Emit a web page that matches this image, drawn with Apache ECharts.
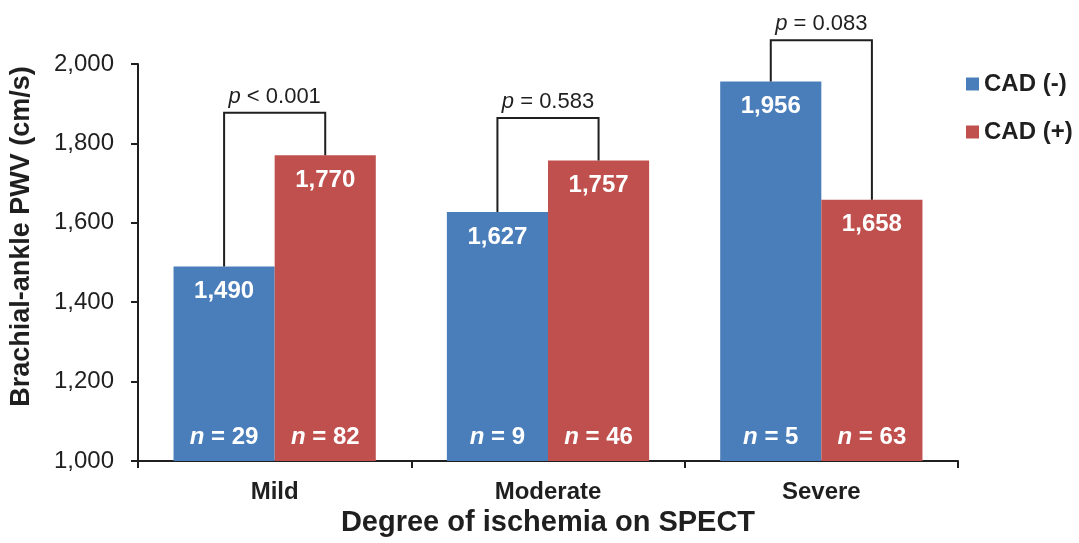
<!DOCTYPE html>
<html>
<head>
<meta charset="utf-8">
<title>baPWV by ischemia</title>
<script src="https://cdn.jsdelivr.net/npm/echarts@6/dist/echarts.min.js"></script>
<style>
  html, body { margin: 0; padding: 0; background: #fff; }
  #main { width: 1079px; height: 543px; }
</style>
</head>
<body>
<div id="main"></div>
<script>
// data
var categories = ['Mild', 'Moderate', 'Severe'];
var cadNeg = [1490, 1627, 1956];
var cadPos = [1770, 1757, 1658];
var nNeg = [29, 9, 5];
var nPos = [82, 46, 63];
var pLabels = ['< 0.001', '= 0.583', '= 0.083'];
var bracketTop = [1877, 1864, 2060];

var BLUE = '#4a7ebb';
var RED = '#c0504d';
var INK = '#1f1f1f';
var FONT = '"Liberation Sans", Arial, sans-serif';
var catGap = 0.26;

function fmt(v) {
    return v.toLocaleString('en-US');
}

var myChart = echarts.init(document.getElementById('main'));

// half distance between the two bar centres inside a category
function barOffset(api) {
    var bandW = api.size([1, 0])[0];
    return bandW * (1 - catGap) / 4;
}

var option = {
    animation: false,
    textStyle: { fontFamily: FONT },
    grid: { left: 138, right: 121, top: 64, bottom: 82 },
    legend: {
        orient: 'vertical',
        left: 961,
        top: 67,
        itemWidth: 13,
        itemHeight: 13,
        itemGap: 24,
        icon: 'rect',
        textStyle: { fontSize: 24, fontWeight: 'bold', color: INK, fontFamily: FONT },
        data: ['CAD (-)', 'CAD (+)']
    },
    xAxis: {
        type: 'category',
        data: categories,
        name: 'Degree of ischemia on SPECT',
        nameLocation: 'middle',
        nameGap: 47,
        nameTextStyle: { fontSize: 29, fontWeight: 'bold', color: INK, fontFamily: FONT },
        axisLine: { lineStyle: { color: INK, width: 2 } },
        axisTick: { show: true, length: 7, inside: false, lineStyle: { color: INK, width: 2 } },
        axisLabel: { margin: 19, fontSize: 24, fontWeight: 'bold', color: INK, fontFamily: FONT }
    },
    yAxis: {
        type: 'value',
        min: 1000,
        max: 2000,
        interval: 200,
        name: 'Brachial-ankle PWV (cm/s)',
        nameLocation: 'middle',
        nameGap: 103,
        nameTextStyle: { fontSize: 27, fontWeight: 'bold', color: INK, fontFamily: FONT, padding: [0, 0, 0, 52] },
        axisLine: { show: true, lineStyle: { color: INK, width: 2 } },
        axisTick: { show: true, length: 7, lineStyle: { color: INK, width: 2 } },
        splitLine: { show: false },
        axisLabel: {
            margin: 24,
            fontSize: 24,
            color: INK,
            fontFamily: FONT,
            formatter: function (v) { return fmt(v); }
        }
    },
    series: [
        {
            name: 'CAD (-)',
            type: 'bar',
            data: cadNeg,
            barGap: '0%',
            barCategoryGap: (catGap * 100) + '%',
            itemStyle: { color: BLUE },
            label: {
                show: true,
                position: 'insideTop',
                distance: 13,
                color: '#fff',
                fontSize: 24,
                fontWeight: 'bold',
                fontFamily: FONT,
                formatter: function (p) { return fmt(p.value); }
            }
        },
        {
            name: 'CAD (+)',
            type: 'bar',
            data: cadPos,
            barGap: '0%',
            barCategoryGap: (catGap * 100) + '%',
            itemStyle: { color: RED },
            label: {
                show: true,
                position: 'insideTop',
                distance: 13,
                color: '#fff',
                fontSize: 24,
                fontWeight: 'bold',
                fontFamily: FONT,
                formatter: function (p) { return fmt(p.value); }
            }
        },
        {
            // sample sizes at the foot of each bar
            type: 'custom',
            silent: true,
            z: 5,
            data: categories.map(function (c, i) { return [i, nNeg[i], nPos[i]]; }),
            renderItem: function (params, api) {
                var i = api.value(0);
                var base = api.coord([i, 1000]);
                var off = barOffset(api);
                var mk = function (x, n) {
                    return {
                        type: 'text',
                        style: {
                            x: x, y: base[1] - 24,
                            text: '{i|n} = ' + n,
                            align: 'center',
                            verticalAlign: 'middle',
                            fill: '#fff',
                            font: 'bold 24px ' + FONT,
                            rich: { i: { fontStyle: 'italic', fontWeight: 'bold', fontSize: 24, fill: '#fff', fontFamily: FONT } }
                        }
                    };
                };
                return {
                    type: 'group',
                    children: [mk(base[0] - off, api.value(1)), mk(base[0] + off, api.value(2))]
                };
            }
        },
        {
            // significance brackets
            type: 'custom',
            silent: true,
            z: 6,
            data: categories.map(function (c, i) { return [i, cadNeg[i], cadPos[i], bracketTop[i]]; }),
            renderItem: function (params, api) {
                var i = api.value(0);
                var off = barOffset(api);
                var pNeg = api.coord([i, api.value(1)]);
                var pPos = api.coord([i, api.value(2)]);
                var pTop = api.coord([i, api.value(3)]);
                var xl = pNeg[0] - off, xr = pNeg[0] + off;
                return {
                    type: 'group',
                    children: [
                        {
                            type: 'polyline',
                            shape: { points: [[xl, pNeg[1]], [xl, pTop[1]], [xr, pTop[1]], [xr, pPos[1]]] },
                            style: { stroke: INK, lineWidth: 2, fill: null }
                        },
                        {
                            type: 'text',
                            style: {
                                x: pNeg[0], y: pTop[1] - 16,
                                text: '{i|p} ' + pLabels[params.dataIndex],
                                align: 'center',
                                verticalAlign: 'middle',
                                fill: INK,
                                font: '22px ' + FONT,
                                rich: { i: { fontStyle: 'italic', fontSize: 22, fill: INK, fontFamily: FONT } }
                            }
                        }
                    ]
                };
            }
        }
    ]
};
myChart.setOption(option);
</script>
</body>
</html>
